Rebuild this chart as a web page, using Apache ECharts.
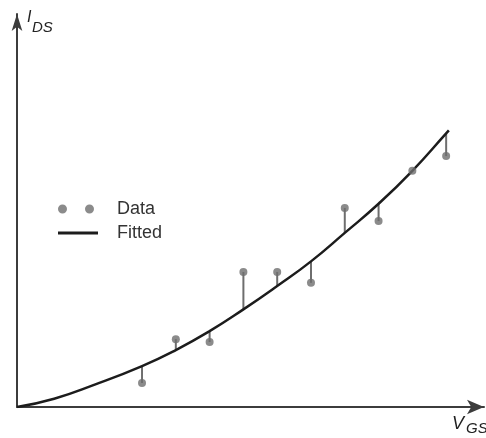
<!DOCTYPE html>
<html>
<head>
<meta charset="utf-8">
<script src="https://cdn.jsdelivr.net/npm/echarts@6/dist/echarts.min.js"></script>
<style>
  html, body { margin: 0; padding: 0; background: #ffffff; }
  #chart { width: 486px; height: 438px; }
</style>
</head>
<body>
<div id="chart"></div>
<script>
// Gate voltage of each measurement (arbitrary units)
const vgs = [3.7, 4.7, 5.7, 6.7, 7.7, 8.7, 9.7, 10.7, 11.7, 12.7];
// Measured drain current
const idsMeasured = [0.75, 2.12, 2.03, 4.22, 4.22, 3.88, 6.22, 5.81, 7.38, 7.84];
// Fitted drain current at each measured gate voltage
const idsFitted = [1.28, 1.78, 2.37, 3.05, 3.78, 4.55, 5.44, 6.35, 7.38, 8.55];
// Extra samples of the fitted curve at its two ends
const fitStartVgs = [0, 1.1, 2.3];
const fitStartIds = [0, 0.26, 0.7];
const fitEndVgs = [12.78];
const fitEndIds = [8.645];

const GREY = '#6e6e6e';
const INK = '#1c1c1c';
const AXIS = '#3c3c3c';

const fitCurve = []
  .concat(fitStartVgs.map((v, i) => [v, fitStartIds[i]]))
  .concat(vgs.map((v, i) => [v, idsFitted[i]]))
  .concat(fitEndVgs.map((v, i) => [v, fitEndIds[i]]));

const measured = vgs.map((v, i) => [v, idsMeasured[i]]);
const residuals = vgs.map((v, i) => [v, idsMeasured[i], idsFitted[i]]);

const chart = echarts.init(document.getElementById('chart'), null, { renderer: 'canvas' });

chart.setOption({
  animation: false,
  backgroundColor: '#ffffff',
  textStyle: { fontFamily: '"Liberation Sans", Arial, sans-serif' },
  grid: { left: 17, right: 2, top: 14, bottom: 31 },
  xAxis: {
    type: 'value', min: 0, max: 13.82,
    axisLine: {
      show: true, onZero: false,
      symbol: ['none', 'arrow'], symbolSize: [11, 17],
      lineStyle: { color: AXIS, width: 2 }
    },
    axisTick: { show: false }, axisLabel: { show: false }, splitLine: { show: false }
  },
  yAxis: {
    type: 'value', min: 0, max: 12.28,
    axisLine: {
      show: true, onZero: false,
      symbol: ['none', 'arrow'], symbolSize: [8, 17],
      lineStyle: { color: AXIS, width: 2 }
    },
    axisTick: { show: false }, axisLabel: { show: false }, splitLine: { show: false }
  },
  legend: {
    orient: 'vertical',
    left: 58, top: 199,
    padding: 0,
    itemWidth: 40, itemHeight: 9,
    itemGap: 4,
    textStyle: { fontSize: 18, color: '#333333', padding: [0, 0, 0, 14], lineHeight: 20 },
    data: [
      { name: 'Data', icon: 'path://M0,4.5a4.5,4.5 0 1,0 9,0a4.5,4.5 0 1,0 -9,0M27,4.5a4.5,4.5 0 1,0 9,0a4.5,4.5 0 1,0 -9,0M40,0L40,9' },
      { name: 'Fitted', icon: 'path://M0,3H40V6H0Z' }
    ]
  },
  series: [
    {
      // Vertical residual between each measurement and the fit
      type: 'custom',
      name: 'Residual',
      z: 2,
      silent: true,
      data: residuals,
      renderItem: function (params, api) {
        const a = api.coord([api.value(0), api.value(1)]);
        const b = api.coord([api.value(0), api.value(2)]);
        return {
          type: 'line',
          shape: { x1: a[0], y1: a[1], x2: b[0], y2: b[1] },
          style: { stroke: GREY, lineWidth: 2 }
        };
      }
    },
    {
      type: 'line',
      name: 'Fitted',
      z: 3,
      data: fitCurve,
      smooth: true,
      symbol: 'none',
      color: INK,
      lineStyle: { color: INK, width: 2.5 }
    },
    {
      type: 'scatter',
      name: 'Data',
      z: 4,
      data: measured,
      symbol: 'circle',
      symbolSize: 8,
      itemStyle: { color: GREY }
    }
  ],
  graphic: [
    {
      type: 'text', left: 27, top: 10,
      style: { text: 'I', font: 'italic 16px "Liberation Sans", Arial, sans-serif', fill: '#222222' }
    },
    {
      type: 'text', left: 32, top: 20,
      style: { text: 'DS', font: 'italic 15px "Liberation Sans", Arial, sans-serif', fill: '#222222' }
    },
    {
      type: 'text', left: 452, top: 415,
      style: { text: 'V', font: 'italic 18px "Liberation Sans", Arial, sans-serif', fill: '#222222' }
    },
    {
      type: 'text', left: 466, top: 421,
      style: { text: 'GS', font: 'italic 15px "Liberation Sans", Arial, sans-serif', fill: '#222222' }
    }
  ]
});
</script>
</body>
</html>
